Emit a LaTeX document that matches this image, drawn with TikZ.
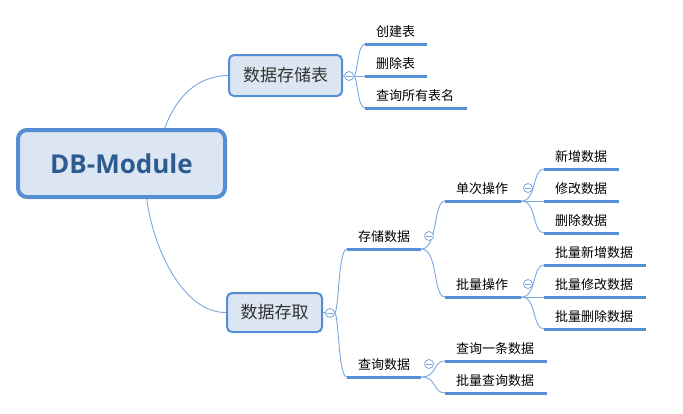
\documentclass[tikz,border=0pt]{standalone}
\usepackage{fontspec}
\setmainfont{Noto Sans CJK SC}
\newfontfamily\latinbold{Open Sans}
\usetikzlibrary{calc}
\definecolor{mmblue}{HTML}{558ED5}
\definecolor{mmfill}{HTML}{DCE6F2}
\definecolor{mmlink}{HTML}{7BA7E0}
\definecolor{mmtext}{HTML}{2E5B8F}
\definecolor{mmdark}{HTML}{333333}

\begin{document}
\begin{tikzpicture}[x=1pt,y=-1pt,
  root/.style={draw=mmblue, line width=4pt, fill=mmfill, rounded corners=9pt,
    minimum width=207pt, minimum height=67pt, inner sep=0pt, text=mmtext,
    font=\latinbold\bfseries\fontsize{26}{26}\selectfont},
  mainbox/.style={draw=mmblue, line width=2pt, fill=mmfill, rounded corners=5pt,
    inner sep=0pt, text=mmdark, font=\fontsize{17}{17}\selectfont},
  topic/.style={anchor=south west, inner xsep=11pt, inner ysep=7pt,
    text height=10pt, text depth=0pt, text width=#1, align=left,
    font=\fontsize{13}{13}\selectfont},
  uline/.style={draw=mmblue, line width=3pt},
  link/.style={draw=mmlink, line width=0.9pt},
  fold/.style={circle, draw=mmlink, fill=white, line width=0.8pt,
    minimum size=9pt, inner sep=0pt,
    path picture={\draw[mmlink, line width=0.8pt]
      ([xshift=-2.6pt]path picture bounding box.center) --
      ([xshift=2.6pt]path picture bounding box.center);}}
]
\useasboundingbox (0,0) rectangle (683,413);

% central topic and main branches
\node[root] (root) at (121.5,163.5) {DB-Module};
\node[mainbox, minimum width=113pt, minimum height=41pt] (store) at (285.5,75.5) {数据存储表};
\node[mainbox, minimum width=95pt, minimum height=39pt] (access) at (274.5,312.5) {数据存取};

\draw[link] ($(root.north west)!0.705!(root.north east)$) .. controls (176,98) and (196,76) .. (store.west);
\draw[link] ($(root.south west)!0.62!(root.south east)$) .. controls (153,248) and (183,313) .. (access.west);

% table operations
\node[topic=40pt] (create) at (365,44) {创建表};
\node[topic=40pt] (drop) at (365,76) {删除表};
\node[topic=80pt] (listall) at (365,108) {查询所有表名};

% data access
\node[topic=52pt] (save) at (347,249) {存储数据};
\node[topic=52pt] (query) at (347,377) {查询数据};
\node[topic=54pt] (single) at (445,201) {单次操作};
\node[topic=54pt] (batch) at (445,297) {批量操作};
\node[topic=53pt] (add) at (544,169) {新增数据};
\node[topic=53pt] (edit) at (544,201) {修改数据};
\node[topic=53pt] (del) at (544,233) {删除数据};
\node[topic=80pt] (badd) at (544,265) {批量新增数据};
\node[topic=80pt] (bedit) at (544,297) {批量修改数据};
\node[topic=80pt] (bdel) at (544,329) {批量删除数据};
\node[topic=80pt] (qone) at (445,361) {查询一条数据};
\node[topic=80pt] (qbatch) at (445,393) {批量查询数据};

% connectors
\draw[link] (store.east) -- (349,76) node[coordinate] (fs) {};
\draw[link] (access.east) -- (330,313) node[coordinate] (fa) {};

\draw[link] (353.5,76) .. controls (358,76) and (357,44) .. (create.south west);
\draw[link] (353.5,76) -- (drop.south west);
\draw[link] (353.5,76) .. controls (358,76) and (357,108) .. (listall.south west);

\draw[link] (334.5,313) .. controls (339,313) and (338,249) .. (save.south west);
\draw[link] (334.5,313) .. controls (339,313) and (338,377) .. (query.south west);

\draw[link] (save.south east) .. controls (438,249) and (433,201) .. (single.south west);
\draw[link] (save.south east) .. controls (438,249) and (433,297) .. (batch.south west);

\draw[link] (single.south east) .. controls (537,201) and (532,169) .. (add.south west);
\draw[link] (single.south east) -- (edit.south west);
\draw[link] (single.south east) .. controls (537,201) and (532,233) .. (del.south west);

\draw[link] (batch.south east) .. controls (537,297) and (532,265) .. (badd.south west);
\draw[link] (batch.south east) -- (bedit.south west);
\draw[link] (batch.south east) .. controls (537,297) and (532,329) .. (bdel.south west);

\draw[link] (query.south east) .. controls (437,377) and (433,361) .. (qone.south west);
\draw[link] (query.south east) .. controls (437,377) and (433,393) .. (qbatch.south west);

% underlines
\foreach \t in {create,drop,listall,save,query,single,batch,add,edit,del,badd,bedit,bdel,qone,qbatch}
  \draw[uline] (\t.south west) -- (\t.south east);

% fold markers
\node[fold] (f1) at (349,76) {};
\node[fold] (f2) at (330,313) {};
\node[fold] (f3) at (429,236) {};
\node[fold] (f4) at (429,364) {};
\node[fold] (f5) at (528,188) {};
\node[fold] (f6) at (528,284) {};
\end{tikzpicture}
\end{document}
